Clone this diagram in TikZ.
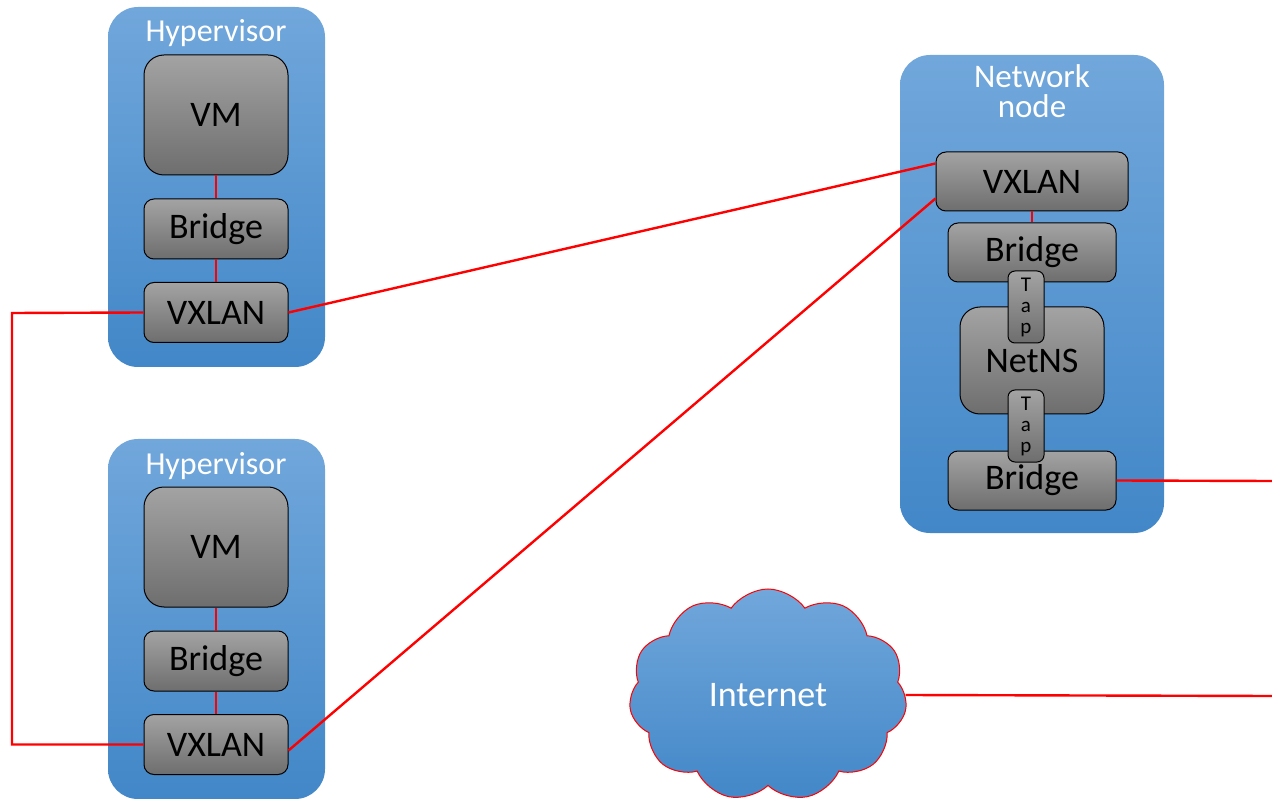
\documentclass[tikz,border=0pt]{standalone}
\usepackage{fontspec}
\setmainfont{Carlito}
\usetikzlibrary{shapes.symbols}
\definecolor{hvtop}{RGB}{113,167,219}
\definecolor{hvbot}{RGB}{66,135,200}
\definecolor{pttop}{RGB}{163,163,163}
\definecolor{ptbot}{RGB}{110,110,110}
\tikzset{
	hyper/.style={draw=none, rounded corners=30pt, top color=hvtop, bottom color=hvbot},
	part/.style={draw=black, line width=1pt, rounded corners=10pt, top color=pttop, bottom color=ptbot,
		inner sep=0pt, font=\fontsize{36}{38}\selectfont},
	tapbox/.style={part, rounded corners=7pt, minimum width=36pt, minimum height=72pt, align=center,
		font=\fontsize{21}{21}\selectfont},
	title/.style={text=white, inner sep=0pt, font=\fontsize{32}{32}\selectfont},
	wire/.style={draw=red, line width=2.4pt}}

\begin{document}
\begin{tikzpicture}[x=1pt,y=-1pt]
\useasboundingbox (0,0) rectangle (1272,799);

% hypervisors
\foreach \h/\dy in {1/0,2/432}
{
	\node[hyper, minimum width=217pt, minimum height=360pt] (hyp\h) at (216.5,{187+\dy}) {};
	\node[title, anchor=base] (hyp\h t) at (216,{42+\dy}) {Hypervisor};
	\node[part, rounded corners=20pt, minimum width=144pt, minimum height=120pt] (vm\h) at (216,{115+\dy}) {VM};
	\node[part, minimum width=144pt, minimum height=60pt] (br\h) at (216,{229+\dy}) {Bridge};
	\node[part, minimum width=144pt, minimum height=60pt] (vx\h) at (216,{312.5+\dy}) {VXLAN};
	\draw[wire] (vm\h) -- (br\h);
	\draw[wire] (br\h) -- (vx\h);
}

% network node
\node[hyper, minimum width=264pt, minimum height=478pt] (net) at (1032,294) {};
\node[title, font=\fontsize{33}{33}\selectfont, anchor=base] (nett) at (1032,88) {Network};
\node[title, font=\fontsize{33}{33}\selectfont, anchor=base] (netn) at (1032,118) {node};
\node[part, minimum width=192pt, minimum height=59pt] (nvx) at (1032,181.5) {VXLAN};
\node[part, minimum width=168pt, minimum height=59pt] (nbr1) at (1032,252.5) {Bridge};
\node[part, rounded corners=20pt, minimum width=144pt, minimum height=107pt] (ns) at (1032,360.5) {NetNS};
\node[part, minimum width=168pt, minimum height=59pt] (nbr2) at (1032,480.5) {Bridge};
\node[tapbox] (tap1) at (1026,307) {T\\a\\p};
\node[tapbox] (tap2) at (1026,426) {T\\a\\p};
\draw[wire] (nvx) -- (nbr1);

% internet
\node[cloud, cloud puffs=11, cloud puff arc=110, aspect=1.3, draw=red, line width=1pt,
	top color=hvtop, bottom color=hvbot, minimum width=278pt, minimum height=212pt,
	text=white, font=\fontsize{36}{38}\selectfont] (inet) at (768,695) {Internet};

% links
\coordinate (lft) at (12,313);
\coordinate (edge1) at (1272,481);
\coordinate (edge2) at (1272,696);
\draw[wire] (vx1.west) -- (lft) |- (vx2.west);
\draw[wire] (vx1.east) -- ([yshift=18pt]nvx.west);
\draw[wire] ([yshift=-6pt]vx2.east) -- ([yshift=-17pt]nvx.west);
\draw[wire] (nbr2.east) -- (edge1);
\draw[wire] (inet.east) -- (edge2);
\end{tikzpicture}
\end{document}
